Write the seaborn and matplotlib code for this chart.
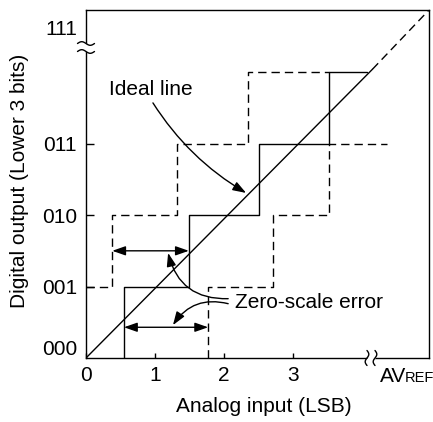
import numpy as np
import matplotlib
matplotlib.use("Agg")
import matplotlib.pyplot as plt
import seaborn as sns

# ---------------- data ----------------
y_tick_pos = [0.14, 1, 2, 3, 4.63]
y_tick_labels = ["000", "001", "010", "011", "111"]
x_tick_pos = [0, 1, 2, 3]
x_tick_labels = ["0", "1", "2", "3"]

# actual conversion characteristic (solid staircase)
actual_x = [0.55, 0.55, 1.49, 1.49, 2.51, 2.51, 3.52, 3.52, 4.07]
actual_y = [0, 1, 1, 2, 2, 3, 3, 4, 4]
# staircase shifted early (upper dashed)
early_x = [0, 0.38, 0.38, 1.32, 1.32, 2.35, 2.35, 3.52]
early_y = [1, 1, 2, 2, 3, 3, 4, 4]
# staircase shifted late (lower dashed)
late_x = [1.77, 1.77, 2.71, 2.71, 3.52, 3.52, 4.36]
late_y = [0, 1, 1, 2, 2, 3, 3]
# ideal line (solid part, then dashed continuation)
ideal_x = [0, 4.15, 4.97]
ideal_y = [0, 4.04, 4.87]

x_max, y_max = 4.97, 4.87

# ---------------- style ----------------
sns.set_style("white")
plt.rcParams["font.family"] = ["Liberation Sans", "DejaVu Sans"]
plt.rcParams["text.color"] = "black"
plt.rcParams["axes.labelcolor"] = "black"
plt.rcParams["xtick.color"] = "black"
plt.rcParams["ytick.color"] = "black"
FS = 15
LW = 1.0
DASH = (0, (6, 3.6))

W, H = 433, 422
fig = plt.figure(figsize=(W / 100, H / 100), dpi=100)
axL, axR, axT, axB = 86, 429, 10, 358
ax = fig.add_axes([axL / W, 1 - axB / H, (axR - axL) / W, (axB - axT) / H])
axw, axh = axR - axL, axB - axT

sns.lineplot(x=actual_x, y=actual_y, sort=False, estimator=None,
             color="black", lw=LW, ax=ax)
sns.lineplot(x=early_x, y=early_y, sort=False, estimator=None,
             color="black", lw=LW, linestyle=DASH, ax=ax)
sns.lineplot(x=late_x, y=late_y, sort=False, estimator=None,
             color="black", lw=LW, linestyle=DASH, ax=ax)
sns.lineplot(x=ideal_x[:2], y=ideal_y[:2], sort=False, estimator=None,
             color="black", lw=LW, ax=ax)
sns.lineplot(x=ideal_x[1:], y=ideal_y[1:], sort=False, estimator=None,
             color="black", lw=LW, linestyle=DASH, ax=ax)

ax.set_xlim(0, x_max)
ax.set_ylim(0, y_max)

# double-headed arrows showing the zero-scale error
arrow_kw = dict(arrowstyle="<|-|>,head_length=0.8,head_width=0.28",
                color="black", lw=LW, shrinkA=0, shrinkB=0, mutation_scale=10)
ax.annotate("", xy=(actual_x[2], 1.50), xytext=(early_x[1], 1.50),
            arrowprops=arrow_kw)
ax.annotate("", xy=(late_x[0], 0.43), xytext=(actual_x[0], 0.43),
            arrowprops=arrow_kw)

# curved pointers
curve_kw = dict(arrowstyle="-|>,head_length=0.8,head_width=0.28", color="black",
                lw=LW, shrinkA=0, shrinkB=0, mutation_scale=10)
ax.text(2.16, 0.77, "Zero-scale error", fontsize=FS, ha="left", va="center")
ax.annotate("", xy=(1.19, 1.47), xytext=(2.06, 0.83),
            arrowprops=dict(curve_kw, connectionstyle="arc3,rad=-0.4"))
ax.annotate("", xy=(1.26, 0.46), xytext=(2.06, 0.76),
            arrowprops=dict(curve_kw, connectionstyle="arc3,rad=0.35"))
ax.text(0.94, 3.76, "Ideal line", fontsize=FS, ha="center", va="center")
ax.annotate("", xy=(2.32, 2.31), xytext=(0.97, 3.57),
            arrowprops=dict(curve_kw, connectionstyle="arc3,rad=0.12"))

# ticks
ax.set_xticks(x_tick_pos, x_tick_labels)
ax.set_yticks(y_tick_pos, y_tick_labels)
ax.tick_params(axis="x", direction="in", length=3.6, width=LW, pad=6,
               labelsize=FS, bottom=True, colors="black")
ax.tick_params(axis="y", direction="in", length=5.8, width=LW, pad=6.5,
               labelsize=FS, left=True, colors="black")
yt = ax.yaxis.get_major_ticks()
yt[0].tick1line.set_visible(False)
yt[-1].tick1line.set_visible(False)
for s in ax.spines.values():
    s.set_color("black")
    s.set_linewidth(LW)

# axis break marks
t = np.linspace(-1, 1, 40)
yb = (axB - 47.5) / axh
for off in (-4, 4):
    ax.plot(t * 8.5 / axw, yb + (off - 1.8 * np.sin(np.pi * t)) / axh,
            transform=ax.transAxes, color="black", lw=LW, clip_on=False, zorder=6)
ax.fill_between(t * 8.5 / axw, yb + (-4 - 1.8 * np.sin(np.pi * t)) / axh,
                yb + (4 - 1.8 * np.sin(np.pi * t)) / axh,
                transform=ax.transAxes, color="white", lw=0, clip_on=False, zorder=5)
xb = (371 - axL) / axw
for off in (-4, 4):
    ax.plot(xb + (off + 1.8 * np.sin(np.pi * t)) / axw, t * 7.5 / axh,
            transform=ax.transAxes, color="black", lw=LW, clip_on=False, zorder=6)
ax.fill_betweenx(t * 7.5 / axh, xb + (-4 + 1.8 * np.sin(np.pi * t)) / axw,
                 xb + (4 + 1.8 * np.sin(np.pi * t)) / axw,
                 transform=ax.transAxes, color="white", lw=0, clip_on=False, zorder=5)

# AV_REF label and axis titles
fig.text(380 / W, 1 - 382 / H, "AV", fontsize=FS, ha="left", va="baseline")
fig.text(405 / W, 1 - 382 / H, "REF", fontsize=10.5, ha="left", va="baseline")
fig.text(264 / W, 1 - 412 / H, "Analog input (LSB)", fontsize=FS,
         ha="center", va="baseline")
fig.text(20 / W, 1 - 181 / H, "Digital output (Lower 3 bits)", fontsize=FS,
         ha="center", va="center", rotation=90)

fig.savefig("out.png", dpi=100)
